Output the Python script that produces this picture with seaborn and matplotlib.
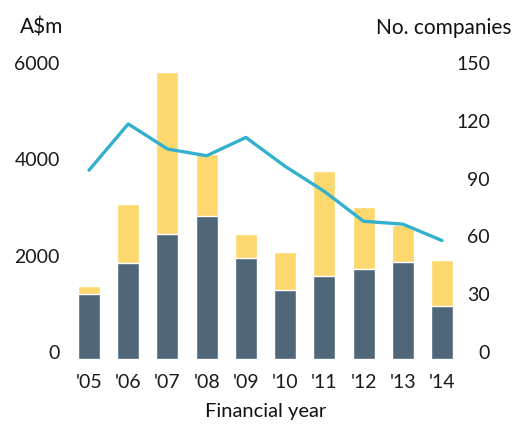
import numpy as np
import pandas as pd
import matplotlib
matplotlib.use("Agg")
import matplotlib.pyplot as plt
import matplotlib.transforms as mtrans
import seaborn as sns

years = ["'05", "'06", "'07", "'08", "'09", "'10", "'11", "'12", "'13", "'14"]
dark_vals = [1350, 2000, 2600, 2975, 2095, 1430, 1725, 1870, 2015, 1100]
total_vals = [1515, 3215, 5960, 4260, 2595, 2220, 3900, 3155, 2780, 2055]
companies = [98, 122, 109, 105.5, 115, 100, 87, 71.5, 70, 61.5]

dark_col = "#506679"
yellow_col = "#FDD86E"
line_col = "#33B0CE"

sns.set_theme(style="white")
plt.rcParams["font.family"] = ["Lato", "DejaVu Sans"]

df = pd.DataFrame({"year": years, "dark": dark_vals, "total": total_vals, "n": companies})

fig = plt.figure(figsize=(5.18, 4.32), dpi=100)
ax = fig.add_axes([69.4 / 518, 73 / 432, (461.6 - 69.4) / 518, 289 / 432])

sns.barplot(data=df, x="year", y="total", color=yellow_col, width=0.56, saturation=1, ax=ax)
sns.barplot(data=df, x="year", y="dark", color=dark_col, width=0.56, saturation=1, ax=ax)
ax.set_ylim(0, 6000)
ax.set_xlim(-0.5, 9.5)
ax.set_yticks([0, 2000, 4000, 6000])
ax.set_ylabel("")
ax.set_xlabel("Financial year", fontsize=14.5, labelpad=9, color="#111111")
ax.tick_params(axis="y", length=0, pad=7, labelsize=14, colors="#1a1a1a")
ax.tick_params(axis="x", length=0, pad=10.5, labelsize=14, colors="#1a1a1a")

ax2 = ax.twinx()
sns.lineplot(x=np.arange(len(years)), y=df["n"], color=line_col, linewidth=2.4, ax=ax2)
ax2.set_ylim(0, 150)
ax2.set_yticks([0, 30, 60, 90, 120, 150])
ax2.set_ylabel("")
ax2.tick_params(axis="y", length=0, pad=20.5, labelsize=14, colors="#1a1a1a")
for lab in ax2.get_yticklabels():
    lab.set_horizontalalignment("right")

for a in (ax, ax2):
    for s in a.spines.values():
        s.set_visible(False)
    a.grid(False)

# labels sit a few px above the bar baseline in the reference
shift = mtrans.ScaledTranslation(0, 7 / 100, fig.dpi_scale_trans)
for lab in ax.get_yticklabels() + ax2.get_yticklabels():
    lab.set_transform(lab.get_transform() + shift)

fig.text(20 / 518, 1 - 28 / 432, "A$m", fontsize=15, va="center", ha="left", color="#111111")
fig.text(512 / 518, 1 - 28 / 432, "No. companies", fontsize=15, va="center", ha="right", color="#111111")

fig.savefig("out.png", dpi=100)
